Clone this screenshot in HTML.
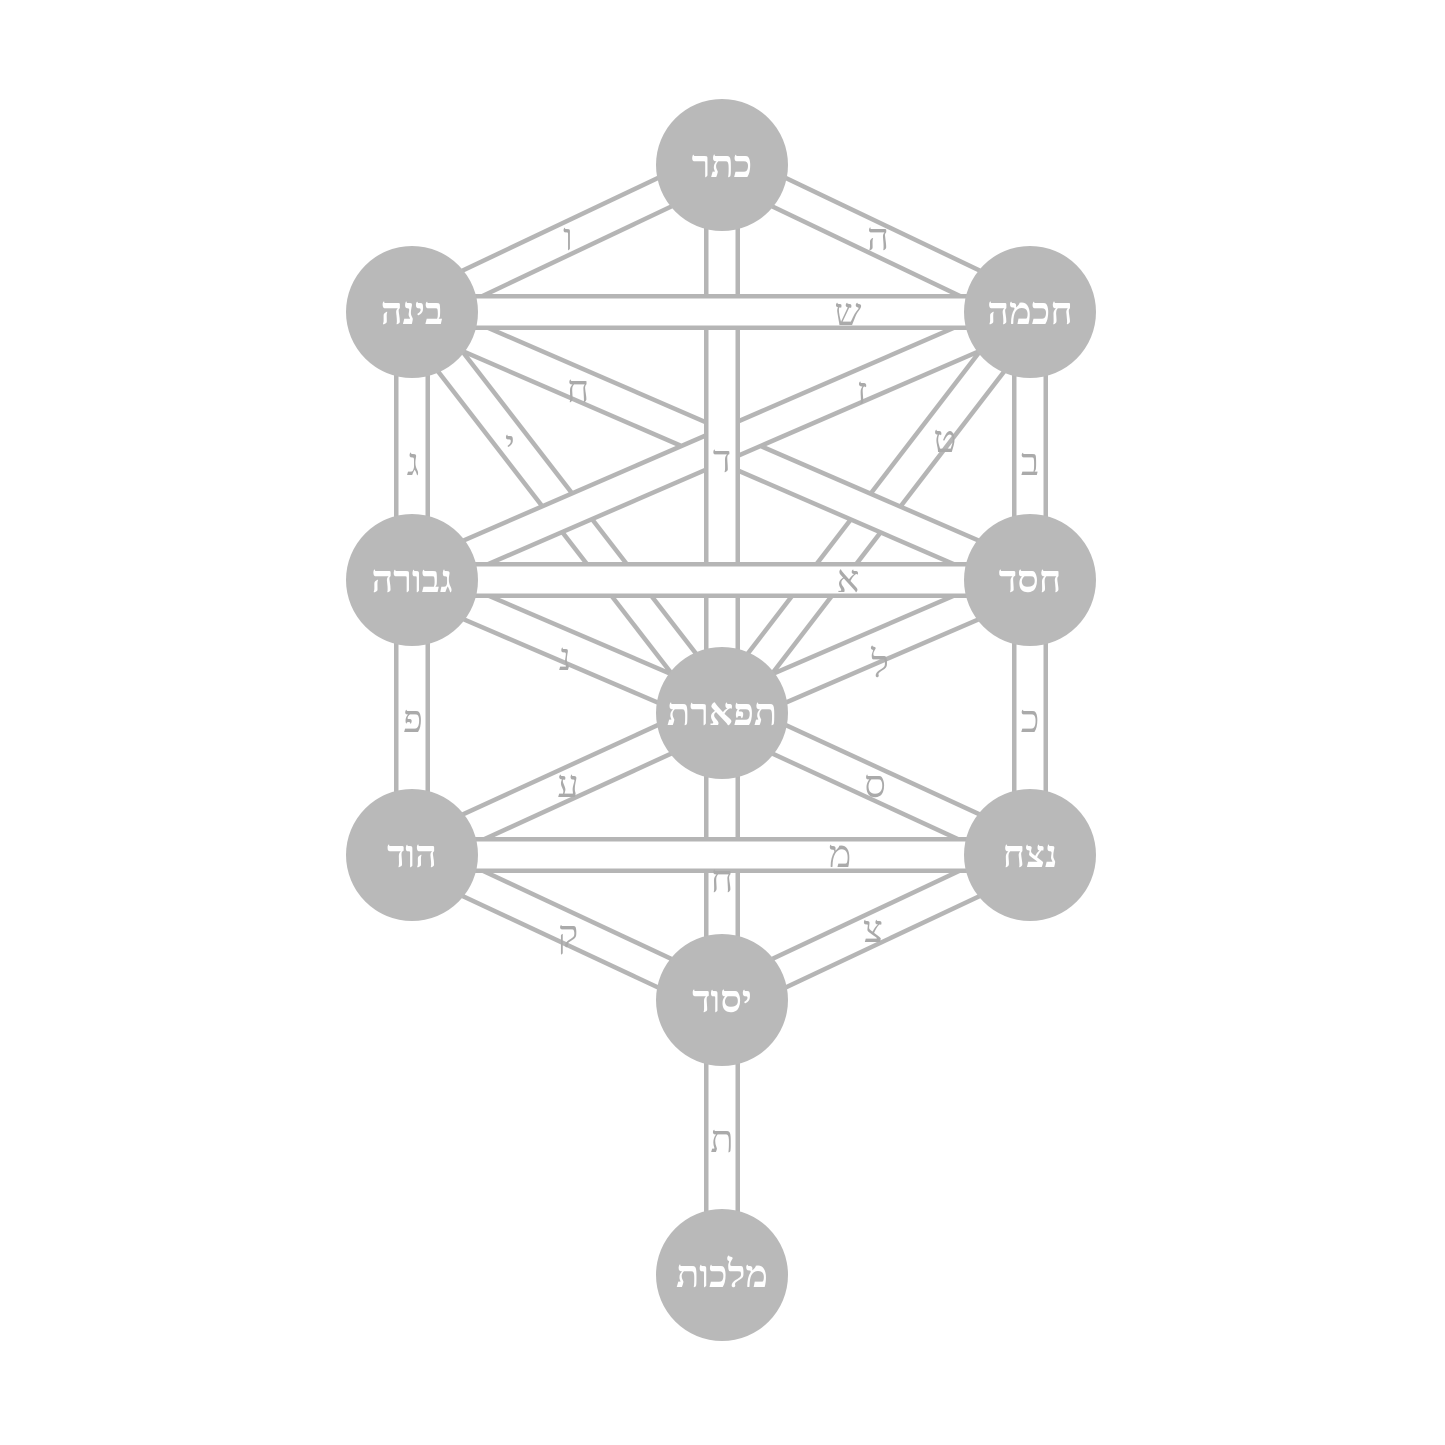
<!DOCTYPE html>
<html><head><meta charset="utf-8"><style>
html,body{margin:0;padding:0;background:#fff}
svg{display:block}
.c{fill:#b9b9b9}
.t{fill:#fff;font-family:"Liberation Serif","Noto Serif CJK SC",serif;font-weight:bold;font-size:38px;text-anchor:middle;dominant-baseline:central}
.l{fill:#aaa;font-family:"Liberation Serif","Noto Serif CJK SC",serif;font-size:38px;text-anchor:middle;dominant-baseline:central}
</style></head><body>
<svg width="1445" height="1445" viewBox="0 0 1445 1445" xmlns="http://www.w3.org/2000/svg">
<g id="segs">
<line x1="412" y1="312" x2="722" y2="165"/>
<line x1="1030" y1="312" x2="722" y2="165"/>
<line x1="412" y1="312" x2="412" y2="580"/>
<line x1="1030" y1="312" x2="1030" y2="580"/>
<line x1="412" y1="312" x2="722" y2="713"/>
<line x1="1030" y1="312" x2="722" y2="713"/>
<line x1="412" y1="312" x2="1030" y2="580"/>
<line x1="1030" y1="312" x2="412" y2="580"/>
<line x1="412" y1="580" x2="722" y2="713"/>
<line x1="1030" y1="580" x2="722" y2="713"/>
<line x1="412" y1="580" x2="412" y2="855"/>
<line x1="1030" y1="580" x2="1030" y2="855"/>
<line x1="412" y1="855" x2="722" y2="713"/>
<line x1="1030" y1="855" x2="722" y2="713"/>
<line x1="412" y1="855" x2="722" y2="1000"/>
<line x1="1030" y1="855" x2="722" y2="1000"/>
<line x1="722" y1="165" x2="722" y2="1275"/>
<line x1="412" y1="312" x2="1030" y2="312"/>
<line x1="412" y1="580" x2="1030" y2="580"/>
<line x1="412" y1="855" x2="1030" y2="855"/>
</g>
<g id="drawn"></g>
<g>
<circle class="c" cx="722" cy="165" r="66"/>
<circle class="c" cx="412" cy="312" r="66"/>
<circle class="c" cx="1030" cy="312" r="66"/>
<circle class="c" cx="412" cy="580" r="66"/>
<circle class="c" cx="1030" cy="580" r="66"/>
<circle class="c" cx="722" cy="713" r="66"/>
<circle class="c" cx="412" cy="855" r="66"/>
<circle class="c" cx="1030" cy="855" r="66"/>
<circle class="c" cx="722" cy="1000" r="66"/>
<circle class="c" cx="722" cy="1275" r="66"/>
</g>
<text class="t" x="722" y="165">כתר</text>
<text class="t" x="412" y="312">בינה</text>
<text class="t" x="1030" y="312">חכמה</text>
<text class="t" x="412" y="580">גבורה</text>
<text class="t" x="1030" y="580">חסד</text>
<text class="t" x="722" y="713">תפארת</text>
<text class="t" x="412" y="855">הוד</text>
<text class="t" x="1030" y="855">נצח</text>
<text class="t" x="722" y="1000">יסוד</text>
<text class="t" x="722" y="1275">מלכות</text>
<text class="l" x="568" y="238">ו</text>
<text class="l" x="878" y="238">ה</text>
<text class="l" x="848" y="313">ש</text>
<text class="l" x="578" y="390">ח</text>
<text class="l" x="862" y="392">ז</text>
<text class="l" x="945" y="440">ט</text>
<text class="l" x="510" y="445">י</text>
<text class="l" x="413" y="463">ג</text>
<text class="l" x="1030" y="463">ב</text>
<text class="l" x="722" y="460">ד</text>
<text class="l" x="848" y="580">א</text>
<text class="l" x="565" y="658">נ</text>
<text class="l" x="880" y="665">ל</text>
<text class="l" x="413" y="720">פ</text>
<text class="l" x="1030" y="720">כ</text>
<text class="l" x="568" y="785">ע</text>
<text class="l" x="875" y="785">ס</text>
<text class="l" x="840" y="855">מ</text>
<text class="l" x="722" y="880">ח</text>
<text class="l" x="568" y="935">ק</text>
<text class="l" x="873" y="930">צ</text>
<text class="l" x="722" y="1140">ת</text>
</svg>
<script>
(function(){
var segs=document.getElementById("segs");
var lines=[].slice.call(segs.querySelectorAll("line"));
var out=document.getElementById("drawn");
lines.forEach(function(l){
 var a=l.cloneNode();a.setAttribute("stroke","#b5b5b5");a.setAttribute("stroke-width","36");out.appendChild(a);
 var b=l.cloneNode();b.setAttribute("stroke","#ffffff");b.setAttribute("stroke-width","27");out.appendChild(b);
});
segs.parentNode.removeChild(segs);
})();
</script>
</body></html>
